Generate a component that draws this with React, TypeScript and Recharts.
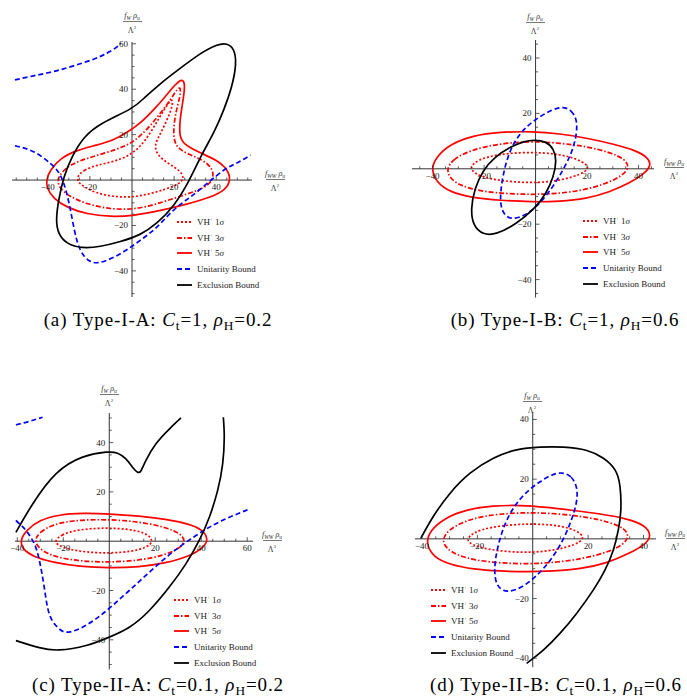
import React from "react";
import { LineChart, Line, XAxis, YAxis, ReferenceLine, ReferenceDot } from "recharts";

// four contour panels (x = f_WW ρu/Λ², y = f_W ρu/Λ²)

type XY = [number, number];

// (a) Type-I-A
const A_VH1: XY[] = [[-25.9,1.8],[-23,4.4],[-16.7,6.6],[-8.7,8.1],[-1.6,10.6],[4,14.7],[8.7,20.6],[13.2,27.9],[16.7,33.1],[19.4,36.3],[19.2,32.4],[16.7,26.5],[13.2,19.9],[10.6,15.4],[11.9,11],[17.5,7.1],[23,4.1],[24.9,0.7],[22.2,-1.8],[15.9,-4.1],[7.9,-6.2],[0,-7.6],[-8.7,-7.4],[-17.5,-5.6],[-23,-2.9],[-25.9,-0.7]];
const A_VH3: XY[] = [[-35.6,0],[-33.3,3.7],[-28.6,7.1],[-21.4,9.6],[-11.9,12.1],[-4,14.7],[0.8,16.9],[7.1,22.1],[13.5,29.4],[18.3,35.3],[21.4,40.2],[23.2,41],[22.9,36.8],[20.6,29.4],[19.5,20.6],[20.6,14.7],[26.2,11.5],[34.1,8.8],[38.1,5.1],[38.9,1.5],[36.5,-2.2],[31,-4.7],[21.4,-7.6],[10.3,-11],[0.8,-12.9],[-10.3,-12.9],[-21.4,-10.6],[-29.4,-7.4],[-34.3,-3.7]];
const A_VH5: XY[] = [[-40.8,0],[-38.9,4.4],[-34.1,9.6],[-26.2,13.2],[-16.7,15.4],[-8.7,17.6],[-2.4,20.9],[4,25],[10.3,30.9],[15.9,36.8],[20.6,42.2],[23.9,44.8],[25.3,42.2],[24.3,35.3],[22.7,26.5],[22.5,19.1],[24.6,15.9],[31,12.5],[40.5,8.8],[45.6,4.4],[46.9,0],[44.4,-4.4],[37.3,-7.6],[26.2,-10.6],[13.5,-13.5],[0.8,-15.7],[-10.3,-16.2],[-21.4,-15],[-31,-12.1],[-37.3,-8.1],[-40.4,-3.7]];
const A_UNIT_UP: XY[] = [[-55.6,44.1],[-46.8,45.9],[-37.3,47.8],[-27.8,50.3],[-18.3,53.2],[-11.9,55.9],[-7.9,58.1],[-5.2,60.3]];
const A_UNIT_LOW: XY[] = [[-55.6,15.1],[-46.8,12.5],[-38.9,7.4],[-34.1,2.2],[-31,-5.9],[-28.6,-16.2],[-26.2,-26.5],[-23,-33.1],[-18.3,-36.3],[-11.9,-35.3],[-4,-31.6],[4,-26.5],[11.9,-20.6],[19.8,-13.2],[27.8,-7.4],[35.7,-1.5],[43.7,4.4],[50,7.6],[56.3,11]];
const A_EXCL: XY[] = [[0.8,31.6],[-15.1,25],[-23,19.1],[-28.6,10.3],[-32.5,1.5],[-34.9,-8.8],[-36.2,-17.6],[-35.1,-23.8],[-31,-28.2],[-23.8,-30.1],[-15.1,-29.4],[-5.6,-27.2],[4,-24.3],[11.9,-19.1],[19.8,-11.8],[27.5,0],[33.3,11.8],[38.9,20.6],[43.7,30.9],[47.6,41.2],[49.7,51.5],[48.6,57.8],[45.2,60.3],[40.5,59.8],[32.5,55.9],[23,49.3],[13.5,42.6],[5.6,36]];

// (b) Type-I-B
const B_VH1: XY[] = [[-25.7,0.6],[-22.4,3.3],[-15.3,5.1],[-6.2,5.9],[1.6,5.9],[9.3,5.2],[15.8,3.7],[19.9,1.6],[20.6,0],[17.7,-2],[10.6,-4],[1.6,-5.1],[-8.8,-4.8],[-17.9,-3.7],[-23.7,-1.8]];
const B_VH3: XY[] = [[-34.6,0],[-32.1,3.3],[-26.9,6],[-19.2,8.2],[-10.1,9.4],[-1,9.9],[9.3,9.3],[19.7,8.1],[28.7,6],[34.6,3.6],[36.5,0.6],[33.9,-2.4],[27.4,-5.4],[18.4,-7.8],[8,-9],[-1,-9.3],[-11.4,-9],[-21.7,-8.1],[-29.5,-6],[-33.4,-3.3]];
const B_VH5: XY[] = [[-40.6,0],[-38.6,4.2],[-33.4,8.8],[-24.3,12],[-14,13.3],[-1,13.5],[9.3,12.7],[19.7,11.1],[30,9],[39.1,6.6],[43.8,4],[44.9,1.2],[42.3,-1.8],[36.5,-5.2],[28.7,-8.4],[19.7,-10.8],[9.3,-11.8],[-1,-12],[-14,-11.4],[-24.3,-10.5],[-33.4,-8.4],[-38.6,-4.8]];
const B_UNIT: XY[] = [[10.6,22.4],[13.9,21.3],[16.3,17.5],[15.8,11.4],[13.9,5.4],[10.6,-0.6],[6.7,-6.6],[1.6,-12.7],[-3.6,-16.7],[-8.8,-18.4],[-12.2,-16.9],[-13.9,-12.7],[-13.3,-5.4],[-11.4,3],[-8.2,10.2],[-3.6,15.3],[1.6,18.9],[6.7,21.5]];
const B_EXCL: XY[] = [[-0.4,10.4],[4.1,9.9],[7.1,7.2],[8.2,3],[7,-3],[4.1,-9],[-0.4,-14.5],[-7.5,-19.9],[-15.3,-23.8],[-20.5,-23.8],[-24.3,-20.5],[-25.2,-14.5],[-23.7,-7.2],[-20.5,-0.6],[-15.9,4.2],[-10.1,7.8],[-4.3,10]];

// (c) Type-II-A
const C_VH1: XY[] = [[-23.8,0],[-21,2.7],[-14.5,4.5],[-5.8,5.3],[2.9,5.3],[11.6,4.5],[17.1,2.6],[19.1,0],[16.7,-2.4],[10.1,-4.2],[0,-4.9],[-10.1,-4.5],[-18.1,-3.2],[-22.5,-1.5]];
const C_VH3: XY[] = [[-32.9,0],[-30.4,3.6],[-24.6,6.8],[-15.9,8.4],[-5.8,8.8],[4.3,8.6],[14.5,7.6],[24.6,5.7],[31.2,3],[33.2,0],[30.4,-3.1],[23.2,-5.9],[13,-7.8],[0,-8.6],[-13,-8.1],[-23.2,-6.5],[-29.7,-3.8]];
const C_VH5: XY[] = [[-38.7,0.5],[-36.2,4.3],[-30.4,8.6],[-21.7,10.8],[-11.6,11.4],[0,11.1],[13,10.3],[24.6,8.9],[34.8,7],[40.6,4.6],[43.1,0.9],[41.3,-2.4],[34.8,-6.2],[24.6,-8.9],[13,-10.5],[0,-10.9],[-13,-10.3],[-24.6,-8.6],[-33.3,-6.2],[-37.9,-3.1]];
const C_UNIT_UP: XY[] = [[-40.6,47.2],[-34.8,48.6],[-29,50.3]];
const C_UNIT_LOW: XY[] = [[-40.6,8.4],[-36.2,4.3],[-32.6,-1.1],[-30.4,-7.8],[-28.3,-18.6],[-26.1,-29.5],[-22.5,-34.9],[-18.8,-36.9],[-13,-35.5],[-5.8,-31.5],[1.4,-26.1],[8.7,-20],[15.9,-13.9],[23.2,-7.8],[30.4,-2.4],[37.7,2.3],[44.9,6.4],[52.2,9.7],[60.1,12.7]];
const C_EXCL_UP: XY[] = [[-40.6,3.6],[-33.3,15.1],[-23.2,27.3],[-11.6,34.1],[-1.4,36.1],[3.6,35.7],[7.2,33.4],[10.1,30],[12.3,28],[13.8,28.6],[15.9,32.7],[20.3,39.5],[26.1,45.5],[31.2,50]];
const C_EXCL_LOW: XY[] = [[49.6,50.3],[50,42.2],[49.3,31.4],[47.1,20.5],[43.5,9.7],[39.1,0.3],[33.3,-9.2],[26.1,-18.6],[17.4,-28.1],[8.7,-34.9],[0,-38.9],[-10.1,-42.3],[-21.7,-44.1],[-30.4,-43.2],[-40.6,-40.3]];

// (d) Type-II-B
const D_VH1: XY[] = [[-24.1,-0.3],[-21.4,2.2],[-15.4,3.9],[-7,4.8],[0.2,5],[7.5,4.7],[13.5,3.6],[17.7,1.7],[18.4,-0.1],[15.3,-2],[8.7,-3.7],[0.2,-4.6],[-8.2,-4.4],[-16.6,-3.5],[-22,-2]];
const D_VH3: XY[] = [[-32.8,-0.3],[-30.4,3],[-25,5.8],[-17.8,7.7],[-8.2,8.6],[0.2,8.8],[9.9,8.4],[19.5,7.3],[27.9,5.6],[33.3,3.4],[34.8,0.8],[32.7,-2],[26.7,-4.6],[18.3,-6.6],[8.7,-7.9],[-1,-8.4],[-10.6,-8.2],[-20.2,-7.3],[-27.4,-5.5],[-31.3,-3.1]];
const D_VH5: XY[] = [[-38.6,-1.5],[-37.1,2.8],[-31.6,7.1],[-23.8,9.9],[-14.2,11.1],[-4.6,11.3],[5.1,10.6],[14.7,9.5],[24.3,8.4],[33.9,6.8],[40.6,4.6],[42.9,1.1],[40.9,-1.7],[35.1,-4.8],[26.7,-8.2],[17.1,-10.1],[7.5,-10.8],[-2.2,-11.1],[-11.8,-10.8],[-21.4,-10.2],[-29.8,-8.7],[-35.9,-6.1]];
const D_UNIT: XY[] = [[10.5,22.4],[14.1,21.1],[16.3,17],[15.9,11.9],[14.1,6.4],[11.1,-0.3],[7.5,-5.9],[2.6,-11.5],[-3.4,-16.2],[-9.4,-18.2],[-13.2,-16],[-14,-10.4],[-13,-3.7],[-10.6,4.1],[-7,10.8],[-2.2,15.9],[2.6,19.2],[6.9,21.6]];
const D_EXCL: XY[] = [[-40.4,0.2],[-35.9,7.5],[-29.8,15.3],[-22.6,22],[-14.2,27],[-5.8,29.8],[2.6,30.7],[11.1,30.7],[19.5,29.6],[25.5,27],[29.7,23.1],[31.5,17.5],[31.8,9.7],[30.9,3],[29.1,-3.7],[26.1,-10.4],[21.9,-17.1],[15.9,-24.9],[9.9,-31.6],[3.9,-37.2],[-2.2,-41.7]];

const RED = "#ff0000";
const BLUE = "#0000ff";
const BLACK = "#000000";
const SERIF = '"Liberation Serif", "Times New Roman", serif';

type Kind = "vh1" | "vh3" | "vh5" | "unit" | "excl";
const KIND: Record<Kind, { stroke: string; dash?: string; label: React.ReactNode }> = {
  vh1: { stroke: RED, dash: "2 2", label: <>VH<sup style={{ fontSize: 5 }}>+</sup> 1<i>σ</i></> },
  vh3: { stroke: RED, dash: "5 2 1.5 2", label: <>VH<sup style={{ fontSize: 5 }}>+</sup> 3<i>σ</i></> },
  vh5: { stroke: RED, label: <>VH<sup style={{ fontSize: 5 }}>+</sup> 5<i>σ</i></> },
  unit: { stroke: BLUE, dash: "5 3", label: "Unitarity Bound" },
  excl: { stroke: BLACK, label: "Exclusion Bound" },
};
const LEGEND_ORDER: Kind[] = ["vh1", "vh3", "vh5", "unit", "excl"];

type Series = { kind: Kind; pts: XY[]; closed?: boolean };

type PanelCfg = {
  id: string;
  left: number;
  top: number;
  width: number;
  height: number;
  xDomain: [number, number];
  yDomain: [number, number];
  xLabels: number[];
  yLabels: number[];
  series: Series[];
  legend: [number, number];
  yTitle: [number, number];
  xTitle: [number, number];
  caption: [number, number];
  tag: string;
  ct: string;
  rho: string;
};

const PANELS: PanelCfg[] = [
  {
    id: "a", left: 12, top: 42, width: 240, height: 255,
    xDomain: [-57, 57], yDomain: [-51.5, 60.8],
    xLabels: [-40, -20, 20, 40], yLabels: [60, 40, 20, -20, -40],
    series: [
      { kind: "vh1", pts: A_VH1, closed: true },
      { kind: "vh3", pts: A_VH3, closed: true },
      { kind: "vh5", pts: A_VH5, closed: true },
      { kind: "unit", pts: A_UNIT_UP },
      { kind: "unit", pts: A_UNIT_LOW },
      { kind: "excl", pts: A_EXCL, closed: true },
    ],
    legend: [177, 220], yTitle: [132, 22], xTitle: [275, 180], caption: [158, 320],
    tag: "(a) Type-I-A", ct: "1", rho: "0.2",
  },
  {
    id: "b", left: 412.4, top: 39.5, width: 242, height: 257.6,
    xDomain: [-48, 46], yDomain: [-46.5, 46.5],
    xLabels: [-40, -20, 20, 40], yLabels: [40, 20, -20, -40],
    series: [
      { kind: "vh1", pts: B_VH1, closed: true },
      { kind: "vh3", pts: B_VH3, closed: true },
      { kind: "vh5", pts: B_VH5, closed: true },
      { kind: "unit", pts: B_UNIT, closed: true },
      { kind: "excl", pts: B_EXCL, closed: true },
    ],
    legend: [583, 219], yTitle: [535, 23], xTitle: [674, 168], caption: [565, 320],
    tag: "(b) Type-I-B", ct: "1", rho: "0.6",
  },
  {
    id: "c", left: 15.2, top: 412.5, width: 238, height: 256.4,
    xDomain: [-41, 62.5], yDomain: [-52, 52],
    xLabels: [-40, -20, 20, 40, 60], yLabels: [40, 20, -20, -40],
    series: [
      { kind: "vh1", pts: C_VH1, closed: true },
      { kind: "vh3", pts: C_VH3, closed: true },
      { kind: "vh5", pts: C_VH5, closed: true },
      { kind: "unit", pts: C_UNIT_UP },
      { kind: "unit", pts: C_UNIT_LOW },
      { kind: "excl", pts: C_EXCL_UP },
      { kind: "excl", pts: C_EXCL_LOW },
    ],
    legend: [174, 598], yTitle: [109, 395], xTitle: [272, 541], caption: [158, 685],
    tag: "(c) Type-II-A", ct: "0.1", rho: "0.2",
  },
  {
    id: "d", left: 414.8, top: 412.1, width: 241, height: 255.2,
    xDomain: [-42.5, 44.5], yDomain: [-43, 42.5],
    xLabels: [-40, -20, 20, 40], yLabels: [40, 20, -20, -40],
    series: [
      { kind: "vh1", pts: D_VH1, closed: true },
      { kind: "vh3", pts: D_VH3, closed: true },
      { kind: "vh5", pts: D_VH5, closed: true },
      { kind: "unit", pts: D_UNIT, closed: true },
      { kind: "excl", pts: D_EXCL },
    ],
    legend: [431, 588], yTitle: [532, 402], xTitle: [675, 539], caption: [556, 685],
    tag: "(d) Type-II-B", ct: "0.1", rho: "0.6",
  },
];

const fmt = (v: number) => (v < 0 ? `\u2212${-v}` : `${v}`);

function minorTicks(d: [number, number]) {
  const out: number[] = [];
  for (let t = Math.ceil(d[0] / 5) * 5; t <= d[1]; t += 5) if (t !== 0) out.push(t);
  return out;
}

function Panel({ cfg }: { cfg: PanelCfg }) {
  const xMajor = new Set(cfg.xLabels);
  const yMajor = new Set(cfg.yLabels);
  return (
    <div style={{ position: "absolute", left: cfg.left, top: cfg.top }}>
      <LineChart width={cfg.width} height={cfg.height} margin={{ top: 0, right: 0, bottom: 0, left: 0 }}>
        <XAxis dataKey="x" type="number" domain={cfg.xDomain} allowDataOverflow hide />
        <YAxis dataKey="y" type="number" domain={cfg.yDomain} allowDataOverflow hide />
        <ReferenceLine y={0} stroke="#333" strokeWidth={1} />
        <ReferenceLine x={0} stroke="#333" strokeWidth={1} />
        {minorTicks(cfg.xDomain).map((t) => (
          <ReferenceDot
            key={`x${t}`} x={t} y={0} r={0}
            shape={(p: any) => (
              <g>
                <line x1={p.cx} x2={p.cx} y1={p.cy} y2={p.cy - (xMajor.has(t) ? 4 : 2.5)} stroke="#333" strokeWidth={0.8} />
                {xMajor.has(t) && (
                  <text x={p.cx} y={p.cy + 10} textAnchor="middle" fontSize={9} fontFamily={SERIF} fill="#222">{fmt(t)}</text>
                )}
              </g>
            )}
          />
        ))}
        {minorTicks(cfg.yDomain).map((t) => (
          <ReferenceDot
            key={`y${t}`} x={0} y={t} r={0}
            shape={(p: any) => (
              <g>
                <line x1={p.cx} x2={p.cx + (yMajor.has(t) ? 4 : 2.5)} y1={p.cy} y2={p.cy} stroke="#333" strokeWidth={0.8} />
                {yMajor.has(t) && (
                  <text x={p.cx - 4} y={p.cy + 3} textAnchor="end" fontSize={9} fontFamily={SERIF} fill="#222">{fmt(t)}</text>
                )}
              </g>
            )}
          />
        ))}
        {cfg.series.map((s, i) => (
          <Line
            key={i}
            data={s.pts.map(([x, y]) => ({ x, y }))}
            dataKey="y"
            type={s.closed ? "basisClosed" : "natural"}
            stroke={KIND[s.kind].stroke}
            strokeDasharray={KIND[s.kind].dash}
            strokeWidth={1.7}
            dot={false}
            activeDot={false}
            isAnimationActive={false}
          />
        ))}
      </LineChart>
    </div>
  );
}

function Frac({ at, top }: { at: [number, number]; top: React.ReactNode }) {
  const [cx, cy] = at;
  return (
    <div style={{ position: "absolute", left: cx - 20, top: cy - 11, width: 40, textAlign: "center", fontFamily: SERIF, fontSize: 8, lineHeight: "9px", color: "#333" }}>
      <div style={{ fontStyle: "italic", whiteSpace: "nowrap" }}>{top}</div>
      <div style={{ margin: "1px auto 1px", width: 19, borderTop: "1px solid #777" }} />
      <div>Λ<sup style={{ fontSize: 5 }}>2</sup></div>
    </div>
  );
}

const sub = (t: string) => <sub style={{ fontSize: "0.7em", verticalAlign: "-0.3em", lineHeight: 0 }}>{t}</sub>;

function Legend({ at }: { at: [number, number] }) {
  return (
    <div style={{ position: "absolute", left: at[0], top: at[1] - 6, fontFamily: SERIF, fontSize: 9, color: "#222" }}>
      {LEGEND_ORDER.map((k) => (
        <div key={k} style={{ display: "flex", alignItems: "center", height: 15.8 }}>
          <svg width={15} height={4} style={{ marginRight: 5 }}>
            <line x1={0} x2={15} y1={2} y2={2} stroke={KIND[k].stroke} strokeWidth={1.8} strokeDasharray={KIND[k].dash} />
          </svg>
          <span style={{ whiteSpace: "nowrap" }}>{KIND[k].label}</span>
        </div>
      ))}
    </div>
  );
}

export default function App() {
  return (
    <div style={{ position: "absolute", left: 0, top: 0, width: 687, height: 700, background: "#fff", overflow: "hidden" }}>
      <style>{`.recharts-surface{overflow:visible}`}</style>
      {PANELS.map((cfg) => (
        <React.Fragment key={cfg.id}>
          <Panel cfg={cfg} />
          <Legend at={cfg.legend} />
          <Frac at={cfg.yTitle} top={<>f{sub("W")} ρ{sub("u")}</>} />
          <Frac at={cfg.xTitle} top={<>f{sub("WW")} ρ{sub("u")}</>} />
          <div style={{ position: "absolute", left: cfg.caption[0] - 160, top: cfg.caption[1] - 12, width: 320, textAlign: "center", fontFamily: SERIF, fontSize: 19, letterSpacing: 0.9, lineHeight: "24px", whiteSpace: "nowrap" }}>
            {cfg.tag}: <i>C</i>{sub("t")}=<span>{cfg.ct}</span>, <i>ρ</i>{sub("H")}=<span>{cfg.rho}</span>
          </div>
        </React.Fragment>
      ))}
    </div>
  );
}
